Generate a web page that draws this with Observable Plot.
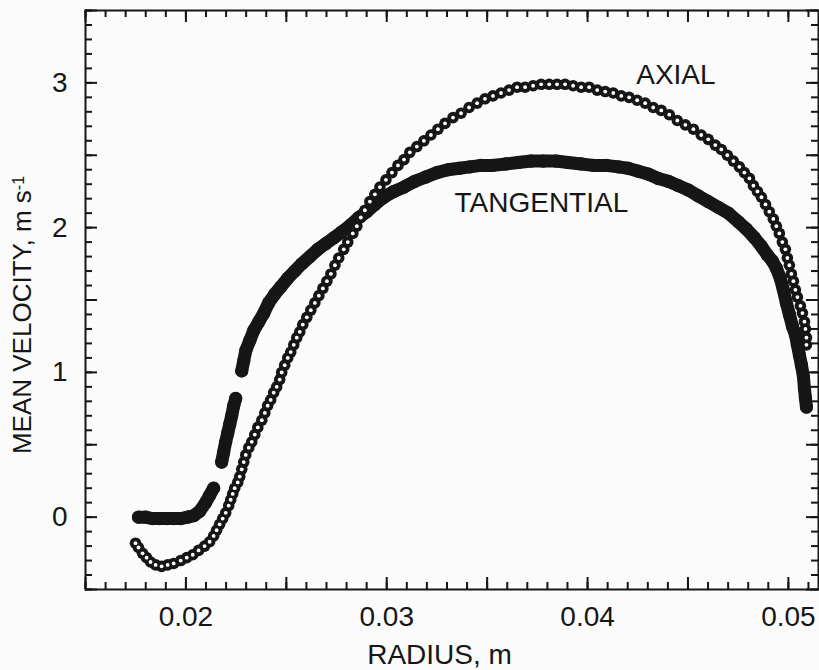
<!DOCTYPE html>
<html><head><meta charset="utf-8">
<script src="https://cdn.jsdelivr.net/npm/d3@7"></script>
<script src="https://cdn.jsdelivr.net/npm/@observablehq/plot@0.6"></script>
<style>html,body{margin:0;padding:0;background:#fbfbfb;} #chart svg{display:block;}</style>
</head><body><div id="chart"></div>
<script>
// Axial mean velocity (open circles) — radius in m, velocity in m/s
const axialR = [0.01749,0.01764,0.01784,0.01804,0.01824,0.01849,0.01879,0.01909,0.01939,0.01974,
0.02004,0.02034,0.02063,0.02093,0.02118,0.02138,0.02153,0.02168,0.02183,0.02198,
0.02213,0.02223,0.02233,0.02243,0.02258,0.02268,0.02278,0.02288,0.02298,0.02313,
0.02328,0.02343,0.02358,0.02378,0.02393,0.02407,0.02422,0.02437,0.02452,0.02467,
0.02477,0.02492,0.02507,0.02522,0.02537,0.02552,0.02567,0.02582,0.02602,0.02622,
0.02642,0.02662,0.02682,0.02702,0.02722,0.02742,0.02761,0.02786,0.02806,0.02831,
0.02851,0.02871,0.02891,0.02916,0.02941,0.02966,0.02996,0.03026,0.03056,0.03086,
0.03115,0.03150,0.03185,0.03220,0.03255,0.03290,0.03330,0.03370,0.03410,0.03450,
0.03489,0.03529,0.03569,0.03609,0.03649,0.03689,0.03729,0.03769,0.03809,0.03848,
0.03888,0.03928,0.03968,0.04008,0.04048,0.04088,0.04128,0.04168,0.04207,0.04247,
0.04287,0.04327,0.04367,0.04407,0.04447,0.04487,0.04527,0.04566,0.04601,0.04636,
0.04666,0.04696,0.04726,0.04756,0.04781,0.04806,0.04826,0.04846,0.04866,0.04886,
0.04905,0.04925,0.04940,0.04955,0.04970,0.04985,0.04995,0.05005,0.05015,0.05025,
0.05035,0.05045,0.05060,0.05070,0.05080,0.05085,0.05090,0.05090];
const axialV = [-0.18,-0.21,-0.25,-0.28,-0.31,-0.33,-0.34,-0.33,-0.32,-0.30,
-0.28,-0.26,-0.23,-0.20,-0.17,-0.13,-0.09,-0.05,-0.01,0.03,
0.08,0.12,0.16,0.20,0.24,0.28,0.33,0.38,0.43,0.48,
0.52,0.57,0.62,0.67,0.72,0.77,0.81,0.86,0.90,0.95,
1.00,1.05,1.10,1.14,1.19,1.24,1.28,1.33,1.38,1.43,
1.48,1.53,1.58,1.63,1.68,1.74,1.79,1.85,1.90,1.96,
2.01,2.07,2.12,2.18,2.23,2.28,2.33,2.38,2.43,2.47,
2.52,2.56,2.60,2.64,2.68,2.72,2.76,2.79,2.83,2.86,
2.89,2.91,2.93,2.95,2.97,2.97,2.98,2.99,2.99,2.99,
2.99,2.98,2.97,2.97,2.95,2.94,2.93,2.91,2.90,2.88,
2.86,2.83,2.81,2.78,2.74,2.71,2.68,2.64,2.61,2.57,
2.54,2.50,2.46,2.42,2.38,2.34,2.29,2.25,2.21,2.16,
2.11,2.06,2.01,1.96,1.90,1.85,1.79,1.74,1.68,1.63,
1.57,1.52,1.46,1.41,1.35,1.30,1.24,1.19];

// Tangential mean velocity (filled circles); NaN marks a gap in the record
const tangentialR = [0.01764,0.01799,0.01834,0.01869,0.01904,0.01939,0.01974,0.02009,0.02039,0.02068,
0.02098,0.02118,0.02138,0.02160,
0.02178,0.02188,0.02198,0.02208,0.02218,0.02228,0.02238,0.02248,0.02262,
0.02278,0.02288,0.02298,0.02318,0.02338,0.02363,0.02388,0.02412,0.02442,0.02472,
0.02507,0.02542,0.02577,0.02617,0.02657,0.02697,0.02737,0.02776,0.02821,0.02861,
0.02901,0.02941,0.02986,0.03036,0.03086,0.03140,0.03195,0.03250,0.03305,0.03360,
0.03415,0.03469,0.03529,0.03594,0.03654,0.03719,0.03779,0.03843,0.03903,0.03968,
0.04028,0.04093,0.04153,0.04202,0.04252,0.04302,0.04352,0.04402,0.04452,0.04502,
0.04551,0.04601,0.04651,0.04701,0.04751,0.04791,0.04831,0.04866,0.04896,0.04920,
0.04940,0.04960,0.04975,0.04990,0.05005,0.05020,0.05035,0.05045,0.05055,0.05065,
0.05075,0.05080,0.05085,0.05090];
const tangentialV = [0.00,0.00,-0.01,-0.01,-0.01,-0.01,-0.01,0.00,0.01,0.04,
0.10,0.15,0.20,NaN,
0.38,0.45,0.52,0.58,0.64,0.70,0.77,0.82,NaN,
1.01,1.08,1.15,1.22,1.29,1.35,1.41,1.48,1.54,1.59,
1.65,1.70,1.75,1.80,1.85,1.89,1.93,1.97,2.02,2.07,
2.11,2.16,2.21,2.25,2.28,2.32,2.35,2.38,2.40,2.41,
2.42,2.43,2.43,2.44,2.45,2.46,2.46,2.46,2.45,2.44,
2.43,2.43,2.42,2.41,2.39,2.37,2.34,2.32,2.29,2.26,
2.22,2.18,2.14,2.10,2.04,1.99,1.93,1.87,1.81,1.77,
1.72,1.65,1.57,1.48,1.40,1.32,1.26,1.19,1.12,1.05,
0.97,0.89,0.82,0.76];

const xTickValues = [0.02, 0.03, 0.04, 0.05];
const yTickValues = [0, 1, 2, 3];
const seriesNames = ["AXIAL", "TANGENTIAL"];
const seriesLabelR = [0.0444, 0.0377];
const seriesLabelV = [3.055, 2.17];
const xTitle = "RADIUS, m";
const yTitle = "MEAN VELOCITY, m s";
const yTitleSup = "-1";

const W = 819, H = 670, mL = 85, mR = 1, mT = 10, mB = 81;
const pw = W - mL - mR, ph = H - mT - mB;
const ink = "#161616";
const font = "'Liberation Sans', Arial, Helvetica, sans-serif";
const fs = 28;

const axial = axialR.map((r, i) => ({r, v: axialV[i]}));
const tang = tangentialR.map((r, i) => ({r, v: tangentialV[i]}));
const labels = seriesNames.map((name, i) => ({name, r: seriesLabelR[i], v: seriesLabelV[i]}));

const xMinor = d3.range(15, 52).map(d => d / 1000);
const xMajor = d3.range(15, 52, 5).map(d => d / 1000);
const yMinor = d3.range(-5, 36).map(d => d / 10);
const yMajor = d3.range(-5, 36, 5).map(d => d / 10);

const minorLen = 7, majorLen = 12;

const chart = Plot.plot({
  width: W, height: H,
  marginLeft: mL, marginRight: mR, marginTop: mT, marginBottom: mB,
  style: {fontFamily: font, fontSize: fs + "px", color: ink, background: "#fbfbfb"},
  x: {domain: [0.015, 0.0515]},
  y: {domain: [-0.5, 3.5]},
  marks: [
    Plot.axisX(xTickValues, {tickSize: 0, tickPadding: 17, tickFormat: d3.format(".2f"), fontSize: fs, label: null, fill: ink}),
    Plot.axisY(yTickValues, {tickSize: 0, tickPadding: 18, tickFormat: d3.format("d"), fontSize: fs, label: null, fill: ink}),
    Plot.line(tang, {x: "r", y: "v", stroke: ink, strokeWidth: 13, strokeLinecap: "round", strokeLinejoin: "round"}),
    Plot.dot(tang, {x: "r", y: "v", r: 6.6, fill: ink}),
    Plot.dot(axial, {x: "r", y: "v", r: 5.8, fill: ink}),
    Plot.dot(axial, {x: "r", y: "v", r: 1.9, fill: "#ffffff"}),
    Plot.text(labels, {x: "r", y: "v", text: "name", fontSize: fs, fill: ink}),
    // inward ticks on all four sides
    Plot.tickY(yMinor, {y: d => d, insetRight: pw - minorLen, stroke: ink, strokeWidth: 2}),
    Plot.tickY(yMajor, {y: d => d, insetRight: pw - majorLen, stroke: ink, strokeWidth: 2}),
    Plot.tickY(yMinor, {y: d => d, insetLeft: pw - minorLen, stroke: ink, strokeWidth: 2}),
    Plot.tickY(yMajor, {y: d => d, insetLeft: pw - majorLen, stroke: ink, strokeWidth: 2}),
    Plot.tickX(xMinor, {x: d => d, insetTop: ph - minorLen, stroke: ink, strokeWidth: 2}),
    Plot.tickX(xMajor, {x: d => d, insetTop: ph - majorLen, stroke: ink, strokeWidth: 2}),
    Plot.tickX(xMinor, {x: d => d, insetBottom: ph - minorLen, stroke: ink, strokeWidth: 2}),
    Plot.tickX(xMajor, {x: d => d, insetBottom: ph - majorLen, stroke: ink, strokeWidth: 2}),
    Plot.frame({stroke: ink, strokeWidth: 2})
  ]
});

const svg = d3.select(chart);
svg.append("text")
  .attr("x", mL + pw / 2 - 12).attr("y", 664)
  .attr("text-anchor", "middle")
  .attr("font-family", font).attr("font-size", fs).attr("fill", ink)
  .text(xTitle);
const yt = svg.append("text")
  .attr("transform", `translate(31,${mT + 305}) rotate(-90)`)
  .attr("text-anchor", "middle")
  .attr("font-family", font).attr("font-size", 26).attr("fill", ink);
yt.append("tspan").text(yTitle);
yt.append("tspan").attr("dy", "-0.45em").attr("font-size", 16).text(yTitleSup);

document.getElementById("chart").appendChild(chart);
</script>
</body></html>
